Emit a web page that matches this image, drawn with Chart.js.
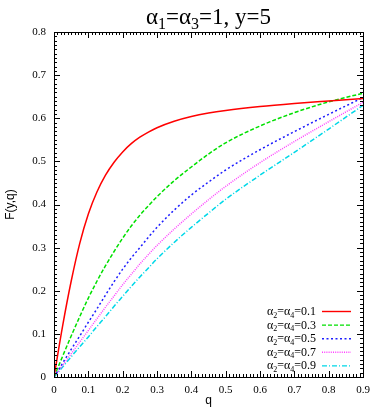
<!DOCTYPE html>
<html>
<head>
<meta charset="utf-8">
<script src="https://cdn.jsdelivr.net/npm/chart.js@4.4.0/dist/chart.umd.min.js"></script>
<style>
  html, body { margin: 0; padding: 0; background: #fff; }
</style>
</head>
<body>
<canvas id="chart" width="382" height="409"></canvas>
<script>
const qValues = [0, 0.025, 0.05, 0.075, 0.1, 0.125, 0.15, 0.175, 0.2, 0.225, 0.25, 0.275, 0.3,
                 0.35, 0.4, 0.45, 0.5, 0.6, 0.7, 0.8, 0.9];

// F(y,q) for alpha2 = alpha4 = 0.1 ... 0.9
const f01 = [0, 0.118, 0.222, 0.31, 0.378, 0.429, 0.468, 0.498, 0.522, 0.541, 0.556, 0.568, 0.578,
             0.593, 0.604, 0.612, 0.618, 0.627, 0.634, 0.64, 0.646];
const f03 = [0, 0.048, 0.095, 0.14, 0.183, 0.222, 0.258, 0.291, 0.322, 0.35, 0.375, 0.397, 0.418,
             0.455, 0.487, 0.517, 0.543, 0.582, 0.613, 0.638, 0.658];
const f05 = [0, 0.032, 0.064, 0.095, 0.127, 0.158, 0.19, 0.221, 0.25, 0.276, 0.3, 0.324, 0.347,
             0.387, 0.422, 0.452, 0.48, 0.527, 0.569, 0.609, 0.648];
const f07 = [0, 0.027, 0.054, 0.081, 0.108, 0.135, 0.162, 0.188, 0.214, 0.238, 0.262, 0.284, 0.305,
             0.343, 0.378, 0.411, 0.442, 0.497, 0.546, 0.592, 0.637];
const f09 = [0, 0.023, 0.047, 0.07, 0.093, 0.117, 0.14, 0.164, 0.187, 0.21, 0.232, 0.253, 0.274,
             0.312, 0.347, 0.38, 0.412, 0.468, 0.521, 0.575, 0.63];

const alphaLabels = ['0.1', '0.3', '0.5', '0.7', '0.9'];
const seriesValues = [f01, f03, f05, f07, f09];

const xTicks = [0, 0.1, 0.2, 0.3, 0.4, 0.5, 0.6, 0.7, 0.8, 0.9];
const yTicks = [0, 0.1, 0.2, 0.3, 0.4, 0.5, 0.6, 0.7, 0.8];

const lineColors = ['#ff0000', '#00e000', '#1e1eff', '#ff40ff', '#00d8e8'];
const lineDashes = [[], [4, 2], [2, 2.5], [1, 1.2], [5, 2, 1, 2]];

const SERIF = '"Liberation Serif", "Times New Roman", serif';
const SANS = '"Liberation Sans", Arial, sans-serif';

// text with subscripts: parts = [[text, isSub], ...]
function drawRich(ctx, parts, x, y, size, align) {
    const big = size + 'px ' + SERIF;
    const small = Math.round(size * 0.68) + 'px ' + SERIF;
    let w = 0;
    parts.forEach(p => { ctx.font = p[1] ? small : big; w += ctx.measureText(p[0]).width; });
    let cx = align === 'right' ? x - w : (align === 'center' ? x - w / 2 : x);
    ctx.textAlign = 'left';
    ctx.textBaseline = 'alphabetic';
    parts.forEach(p => {
        ctx.font = p[1] ? small : big;
        ctx.fillText(p[0], cx, p[1] ? y + size * 0.22 : y);
        cx += ctx.measureText(p[0]).width;
    });
}

const framePlugin = {
    id: 'frame',
    afterDraw(chart) {
        const ctx = chart.ctx;
        const a = chart.chartArea;
        const xs = chart.scales.x, ys = chart.scales.y;
        ctx.save();
        ctx.strokeStyle = '#000';
        ctx.lineWidth = 1;
        ctx.setLineDash([]);
        ctx.beginPath();
        // minor ticks every 0.01, major every 0.1, inward on all sides
        for (let i = 0; i <= 90; i++) {
            const px = Math.round(xs.getPixelForValue(i / 100)) + 0.5;
            const len = i % 10 === 0 ? 6 : 3;
            ctx.moveTo(px, a.bottom); ctx.lineTo(px, a.bottom - len);
            ctx.moveTo(px, a.top); ctx.lineTo(px, a.top + len);
        }
        for (let i = 0; i <= 80; i++) {
            const py = Math.round(ys.getPixelForValue(i / 100)) + 0.5;
            const len = i % 10 === 0 ? 6 : 3;
            ctx.moveTo(a.left, py); ctx.lineTo(a.left + len, py);
            ctx.moveTo(a.right, py); ctx.lineTo(a.right - len, py);
        }
        ctx.stroke();
        ctx.strokeRect(Math.round(a.left) + 0.5, Math.round(a.top) + 0.5,
            Math.round(a.right - a.left), Math.round(a.bottom - a.top));

        // title
        ctx.fillStyle = '#000';
        drawRich(ctx, [['α', 0], ['1', 1], ['=α', 0], ['3', 1], ['=1, y=5', 0]],
            (a.left + a.right) / 2, 24, 23, 'center');

        // key in the lower right corner
        alphaLabels.forEach((lab, i) => {
            const rowY = a.bottom - 66 + i * 13.6;
            ctx.fillStyle = '#000';
            drawRich(ctx, [['α', 0], ['2', 1], ['=α', 0], ['4', 1], ['=' + lab, 0]],
                a.right - 47, rowY + 4, 12, 'right');
            ctx.strokeStyle = lineColors[i];
            ctx.lineWidth = 1.4;
            ctx.setLineDash(lineDashes[i]);
            ctx.beginPath();
            ctx.moveTo(a.right - 41, rowY + 0.5);
            ctx.lineTo(a.right - 12, rowY + 0.5);
            ctx.stroke();
        });
        ctx.restore();
    }
};

const datasets = seriesValues.map((vals, i) => ({
    label: 'α2=α4=' + alphaLabels[i],
    data: qValues.map((q, j) => ({ x: q, y: vals[j] })),
    borderColor: lineColors[i],
    borderWidth: 1.5,
    borderDash: lineDashes[i],
    pointRadius: 0,
    fill: false,
    cubicInterpolationMode: 'monotone'
}));

new Chart(document.getElementById('chart').getContext('2d'), {
    type: 'line',
    data: { datasets: datasets },
    options: {
        responsive: false,
        animation: false,
        layout: { padding: { top: 32, right: 19, left: 0, bottom: 0 } },
        plugins: {
            legend: { display: false },
            title: { display: false },
            tooltip: { enabled: false }
        },
        scales: {
            x: {
                type: 'linear',
                min: 0,
                max: 0.9,
                afterFit: s => { s.height = 32; },
                afterBuildTicks: s => { s.ticks = xTicks.map(v => ({ value: v })); },
                grid: { display: false, drawTicks: false },
                border: { display: false },
                ticks: {
                    color: '#000',
                    padding: 7,
                    maxRotation: 0,
                    font: { family: SERIF, size: 11 },
                    callback: v => v === 0 ? '0' : v.toFixed(1)
                },
                title: {
                    display: true,
                    text: 'q',
                    color: '#000',
                    font: { family: SANS, size: 12 },
                    padding: { top: 0, bottom: 1 }
                }
            },
            y: {
                type: 'linear',
                min: 0,
                max: 0.8,
                afterFit: s => { s.width = 54; },
                afterBuildTicks: s => { s.ticks = yTicks.map(v => ({ value: v })); },
                grid: { display: false, drawTicks: false },
                border: { display: false },
                ticks: {
                    color: '#000',
                    padding: 8,
                    font: { family: SERIF, size: 11 },
                    callback: v => v === 0 ? '0' : v.toFixed(1)
                },
                title: {
                    display: true,
                    text: 'F(y,q)',
                    color: '#000',
                    font: { family: SANS, size: 12 },
                    padding: { top: 3, bottom: 0 }
                }
            }
        }
    },
    plugins: [framePlugin]
});
</script>
</body>
</html>
